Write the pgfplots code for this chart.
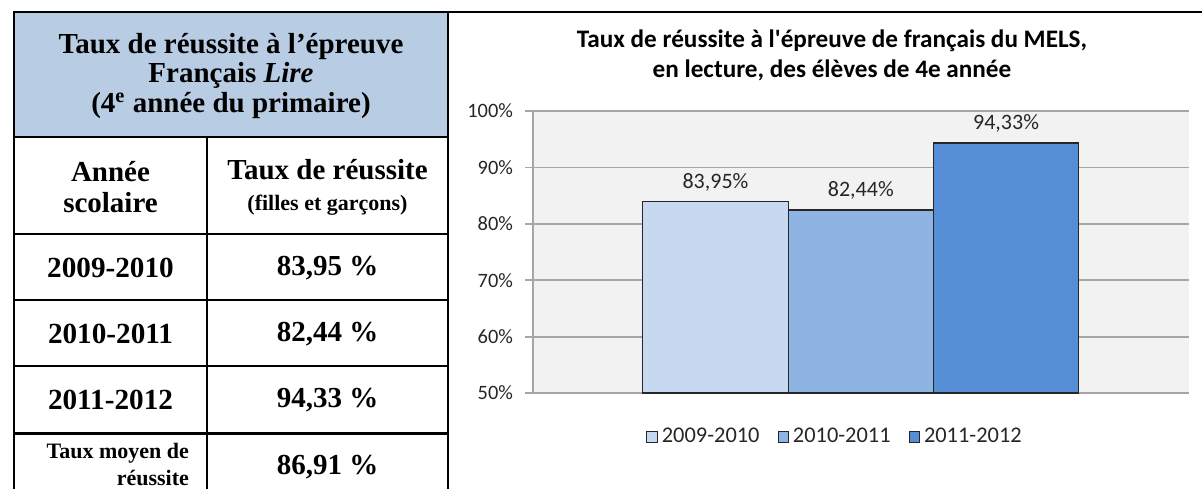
\documentclass[border=0pt]{standalone}
\usepackage{fontspec}
\setmainfont{Liberation Serif}
\newfontfamily\calib{Carlito}
\usepackage{pgfplots}
\pgfplotsset{compat=1.18}
\definecolor{tblblue}{HTML}{B8CCE4}
\definecolor{cA}{HTML}{C6D9F1}
\definecolor{cB}{HTML}{8EB4E3}
\definecolor{cC}{HTML}{558ED5}
\definecolor{plotbg}{HTML}{F2F2F2}
\definecolor{gridc}{HTML}{A6A6A6}
\definecolor{txt}{HTML}{262626}
\begin{document}
\begin{tikzpicture}
\begin{scope}[x=0.5pt,y=-0.5pt]
\useasboundingbox (0,0) rectangle (1202,489);
% table
\fill[tblblue] (14,12) rectangle (448,137);
\draw[line width=1.1pt] (13,12) -- (1202,12);
\draw[line width=1pt] (14,12) -- (14,489);
\draw[line width=1pt] (448,12) -- (448,489);
\draw[line width=1pt] (207,137) -- (207,489);
\draw[line width=1pt] (14,137) -- (448,137);
\draw[line width=1pt] (14,234) -- (448,234);
\draw[line width=1pt] (14,300) -- (448,300);
\draw[line width=1pt] (14,366) -- (448,366);
\draw[line width=1.8pt] (14,433.5) -- (448,433.5);
\node[align=center,font=\fontsize{14.5}{14.8}\selectfont\bfseries] at (231,76)
  {Taux de réussite à l’épreuve\\Français \textit{Lire}\\(4\textsuperscript{e} année du primaire)};
\node[align=center,font=\fontsize{14.5}{15.5}\selectfont\bfseries] at (110.5,187) {Année\\scolaire};
\node[align=center,font=\fontsize{14.5}{15.5}\selectfont\bfseries] at (327.5,187) {Taux de réussite\\{\fontsize{11}{12}\selectfont (filles et garçons)}};
\node[font=\fontsize{14.6}{16}\selectfont\bfseries] at (110.5,268) {2009-2010};
\node[font=\fontsize{14.6}{16}\selectfont\bfseries] at (110.5,334) {2010-2011};
\node[font=\fontsize{14.6}{16}\selectfont\bfseries] at (110.5,400) {2011-2012};
\node[font=\fontsize{14.5}{16}\selectfont\bfseries] at (327.5,268) {83,95 \%};
\node[font=\fontsize{14.5}{16}\selectfont\bfseries] at (327.5,334) {82,44 \%};
\node[font=\fontsize{14.5}{16}\selectfont\bfseries] at (327.5,400) {94,33 \%};
\node[font=\fontsize{14.5}{16}\selectfont\bfseries] at (327.5,467) {86,91 \%};
\node[align=right,anchor=east,font=\fontsize{11}{13.5}\selectfont\bfseries] at (196,464) {Taux moyen de\\réussite};
% chart title
\node[align=center,font=\calib\fontsize{12.6}{15}\selectfont\bfseries] at (832,55)
  {Taux de réussite à l'épreuve de français du MELS,\\en lecture, des élèves de 4e année};
\end{scope}
\begin{axis}[
  at={(266.5pt,-196.5pt)}, anchor=south west,
  scale only axis, width=328pt, height=141pt,
  xmin=-0.256, xmax=4.259,
  ymin=50, ymax=100,
  ytick={50,60,70,80,90,100},
  yticklabel={\pgfmathprintnumber[assume math mode=true]{\tick}\%},
  yticklabel style={font=\calib\fontsize{10.2}{12}\selectfont, text=txt, xshift=-2.5pt},
  xtick=\empty,
  axis lines*=left,
  axis line style={draw=gridc, line width=0.9pt},
  ymajorgrids,
  grid style={draw=gridc, line width=0.9pt},
  major tick style={draw=gridc, line width=0.9pt},
  major tick length=4pt, tick align=outside,
  axis background/.style={fill=plotbg},
  ybar, bar width=1, bar shift=0pt,
  nodes near coords={\pgfmathprintnumber[fixed, fixed zerofill, precision=2, use comma, assume math mode=true]{\pgfplotspointmeta}\%},
  every node near coord/.append style={font=\calib\fontsize{11}{12}\selectfont, text=txt, yshift=1.5pt},
  legend columns=3,
  legend style={at={(0.462,-0.156)}, anchor=center, draw=none, fill=none,
    font=\calib\fontsize{11.2}{12}\selectfont, text=txt,
    /tikz/every even column/.append style={column sep=7pt}},
  legend image code/.code={\draw[#1,line width=0.5pt] (0pt,-2.6pt) rectangle (5.2pt,2.6pt);},
]
\addplot[fill=cA, draw=black!85, line width=0.6pt] coordinates {(1,83.95)};
\addplot[fill=cB, draw=black!85, line width=0.6pt] coordinates {(2,82.44)};
\addplot[fill=cC, draw=black!85, line width=0.6pt] coordinates {(3,94.33)};
\legend{2009-2010,2010-2011,2011-2012}
\end{axis}
\end{tikzpicture}
\end{document}
